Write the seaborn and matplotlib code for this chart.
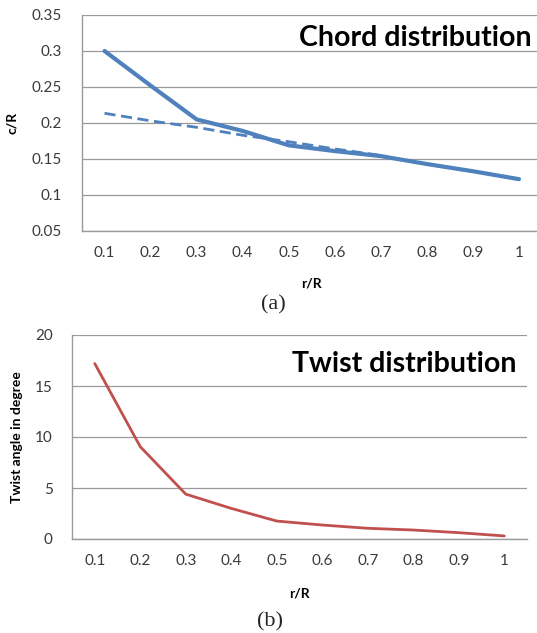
import pandas as pd
import matplotlib
matplotlib.use("Agg")
import matplotlib.pyplot as plt
import seaborn as sns

# values
r_R = ["0.1", "0.2", "0.3", "0.4", "0.5", "0.6", "0.7", "0.8", "0.9", "1"]
chord = [0.300, 0.252, 0.205, 0.189, 0.169, 0.161, 0.154, 0.143, 0.133, 0.122]
chord_linear = [0.2135, 0.203, 0.194, 0.183, 0.174, 0.164, 0.155]
twist = [17.2, 9.05, 4.4, 3.0, 1.76, 1.37, 1.05, 0.88, 0.62, 0.3]

sns.set_style("white")
plt.rcParams["font.family"] = ["Lato", "DejaVu Sans"]

blue = "#4F81BD"
red = "#C0504D"
grid_c = "#9A9A9A"
txt_c = "#3A3A3A"

df_c = pd.DataFrame({"r": r_R, "c": chord})
df_l = pd.DataFrame({"r": r_R[:len(chord_linear)], "c": chord_linear})
df_t = pd.DataFrame({"r": r_R, "t": twist})

W, H = 537, 633
fig = plt.figure(figsize=(W / 100, H / 100), dpi=100)
# top chart runs a little past the right edge, as in the reference
ax1 = fig.add_axes([81.5 / W, (H - 231) / H, 460.5 / W, 216 / H])
ax2 = fig.add_axes([72 / W, (H - 539) / H, 455 / W, 204 / H])


def style_axis(ax, yticks, ylim, ylab, ylab_x, xlab_y):
    ax.set_xlim(-0.5, 9.5)
    ax.set_ylim(*ylim)
    ax.set_yticks(yticks)
    ax.set_xticks(range(len(r_R)))
    ax.set_xticklabels(r_R)
    ax.set_xticks([i - 0.5 for i in range(len(r_R) + 1)], minor=True)
    ax.tick_params(axis="x", which="major", length=0, pad=11, labelsize=11, labelcolor=txt_c)
    ax.tick_params(axis="x", which="minor", length=5, color=grid_c, width=1, direction="out")
    ax.tick_params(axis="y", length=5, color=grid_c, width=1, pad=9, labelsize=11, labelcolor=txt_c)
    ax.yaxis.grid(True, color=grid_c, linewidth=0.9)
    ax.set_axisbelow(True)
    for s in ["top", "right"]:
        ax.spines[s].set_visible(False)
    for s in ["left", "bottom"]:
        ax.spines[s].set_color(grid_c)
        ax.spines[s].set_linewidth(1)
    ax.set_ylabel(ylab, fontsize=10, fontweight="bold", color="black")
    ax.set_xlabel("r/R", fontsize=10, fontweight="bold", color="black")
    ax.yaxis.set_label_coords(ylab_x, 0.5)
    ax.xaxis.set_label_coords(0.5, xlab_y)


sns.lineplot(data=df_l, x="r", y="c", ax=ax1, color=blue, linewidth=2.0,
             linestyle=(0, (4, 2)), sort=False)
sns.lineplot(data=df_c, x="r", y="c", ax=ax1, color=blue, linewidth=3.0, sort=False)
style_axis(ax1, [0.05, 0.1, 0.15, 0.2, 0.25, 0.3, 0.35], (0.05, 0.35), "c/R",
           (18 - 81.5) / 460.5, (231 - 277) / 216)
ax1.set_yticklabels(["0.05", "0.1", "0.15", "0.2", "0.25", "0.3", "0.35"])
ax1.text((532 - 81.5) / 460.5, (231 - 38) / 216, "Chord distribution",
         transform=ax1.transAxes, ha="right", va="center",
         fontsize=20.5, fontweight="bold", color="black")

sns.lineplot(data=df_t, x="r", y="t", ax=ax2, color=red, linewidth=2.0, sort=False)
style_axis(ax2, [0, 5, 10, 15, 20], (0, 20), "Twist angle in degree",
           (23 - 72) / 455, (539 - 588) / 204)
ax2.text((516 - 72) / 455, (539 - 364) / 204, "Twist distribution",
         transform=ax2.transAxes, ha="right", va="center",
         fontsize=20.5, fontweight="bold", color="black")

fig.text(273 / W, 1 - 305 / H, "(a)", ha="center", va="center",
         fontsize=16, family="Liberation Serif")
fig.text(270 / W, 1 - 622 / H, "(b)", ha="center", va="center",
         fontsize=16, family="Liberation Serif")

fig.savefig("out.png", dpi=100)
